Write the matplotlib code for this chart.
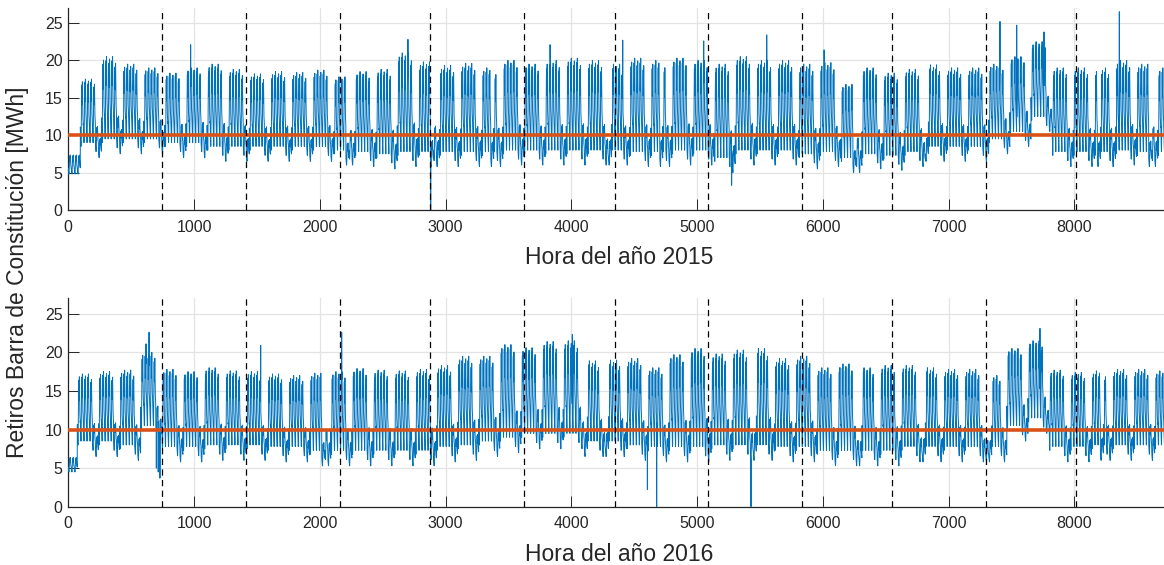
import numpy as np
import matplotlib
matplotlib.use("Agg")
import matplotlib.pyplot as plt

plt.rcParams['font.family'] = ['Liberation Sans', 'DejaVu Sans']

# ---------------- data ----------------
month_starts = [744, 1416, 2160, 2880, 3624, 4344, 5088, 5832, 6552, 7296, 8016]
x_ticks = [0, 1000, 2000, 3000, 4000, 5000, 6000, 7000, 8000]
y_ticks = [0, 5, 10, 15, 20, 25]
xlabels = ["Hora del año 2015", "Hora del año 2016"]
ylabel = "Retiros Barra de Constitución [MWh]"
mean_level = [10.0, 10.0]

# typical hourly shape of a working day (0 = night minimum, 1 = daily peak)
day_profile = [0.3, 0.22, 0.15, 0.08, 0.03, 0.0, 0.06, 0.2, 0.45, 0.7, 0.85, 0.95,
               0.8, 0.65, 0.75, 0.9, 1.0, 0.85, 0.6, 0.48, 0.45, 0.42, 0.38, 0.33]
# Monday..Sunday relative amplitude, night-level lift [MWh]; holiday values
weekday_scale = [0.96, 1.0, 0.97, 1.0, 0.92, 0.35, 0.25]
night_lift = [1.5, 2.0, 2.0, 2.0, 2.0, 0.8, 0.0]
holiday_scale = 0.25
holiday_lift = 0.0

# ---- 2015 (first Monday = day 4) ----
first_monday_2015 = 4
pre_2015 = (15.0, 4.8)  # (peak, low) of the days before the first Monday
peak_2015 = [17.5, 20.5, 19.5, 19.0, 18.3, 19.0, 19.5, 18.8, 18.2, 18.5, 18.4, 18.7,
             17.8, 18.5, 18.8, 21.0, 19.8, 19.3, 19.6, 19.0, 20.0, 19.5, 20.0, 20.3,
             20.0, 19.5, 20.3, 20.0, 20.3, 20.0, 19.5, 20.5, 20.0, 20.0, 19.5, 19.7,
             16.8, 19.0, 18.3, 18.8, 19.4, 19.0, 19.0, 19.5, 20.5, 22.5, 19.0, 19.0,
             19.0, 20.0, 19.5, 19.0]
low_2015 = [7.0, 7.5, 7.5, 7.5, 7.0, 7.0, 6.5, 6.5, 6.5, 6.5, 6.5, 6.5,
            6.0, 5.8, 5.5, 5.8, 5.8, 5.8, 5.8, 5.8, 6.0, 6.0, 6.0, 6.0,
            6.0, 6.0, 5.8, 5.8, 6.0, 6.0, 5.0, 6.0, 6.0, 6.0, 5.5, 5.8,
            5.0, 5.5, 5.3, 5.8, 6.5, 6.5, 6.5, 7.5, 8.5, 10.5, 5.8, 5.8,
            5.8, 6.0, 5.8, 5.8]
holidays_2015 = [0, 1, 92, 120, 140, 179, 196, 260, 284, 341, 358]
event_hours_2015 = [973, 2701, 2882, 3831, 4409, 5053, 5275, 5554, 6010, 7409, 7542, 7759, 8358]
event_values_2015 = [22.1, 22.8, 0.0, 22.1, 22.7, 22.6, 3.3, 23.4, 21.4, 25.2, 24.7, 23.8, 26.5]

# ---- 2016 (first Monday = day 3) ----
first_monday_2016 = 3
pre_2016 = (12.0, 4.5)
peak_2016 = [17.2, 17.5, 17.7, 20.0, 17.8, 17.5, 18.0, 17.6, 17.5, 17.2, 17.0, 17.3,
             17.5, 17.9, 17.7, 17.6, 17.8, 18.3, 19.5, 19.5, 21.0, 20.6, 21.4, 21.5,
             18.9, 19.0, 19.2, 18.0, 19.7, 20.5, 19.8, 20.3, 20.5, 19.2, 19.5, 18.0,
             18.5, 18.0, 18.3, 18.3, 18.0, 17.8, 17.8, 17.0, 20.5, 21.5, 17.7, 17.4,
             17.6, 17.8, 17.8, 17.6]
low_2016 = [6.5, 6.5, 6.0, 8.5, 5.8, 5.8, 6.0, 6.0, 6.0, 5.8, 5.8, 5.3,
            5.3, 5.3, 5.3, 5.3, 5.3, 5.8, 6.0, 6.5, 7.0, 7.5, 7.5, 7.5,
            6.5, 6.5, 6.0, 5.8, 5.8, 5.8, 6.0, 6.0, 6.0, 5.8, 5.8, 5.3,
            5.3, 5.3, 5.3, 5.8, 5.8, 5.8, 5.8, 5.8, 8.5, 9.5, 5.8, 5.8,
            6.0, 6.0, 6.0, 6.0]
holidays_2016 = [0, 84, 171, 178, 227, 262, 283, 304, 305, 342]
event_hours_2016 = [618, 642, 700, 715, 729, 1530, 2174, 4008, 4605, 4679, 5429, 7727]
event_values_2016 = [21.1, 22.6, 5.0, 4.5, 3.7, 20.9, 22.6, 22.3, 2.2, 0.0, 0.0, 23.1]


def build_year(first_monday, pre, peaks, lows, holidays, ev_h, ev_v, ndays=365):
    vals = []
    for d in range(ndays):
        k, wd = divmod(d - first_monday, 7)
        pk, lo = pre if k < 0 else (peaks[k], lows[k])
        if d in holidays or k < 0:
            s, lift = holiday_scale, holiday_lift
        else:
            s, lift = weekday_scale[wd], night_lift[wd]
        base = lo + lift
        for p in day_profile:
            vals.append(base + (pk - base) * s * p)
    y = np.array(vals)
    for h, v in zip(ev_h, ev_v):
        y[h] = v
    return y


series = [
    build_year(first_monday_2015, pre_2015, peak_2015, low_2015, holidays_2015,
               event_hours_2015, event_values_2015),
    build_year(first_monday_2016, pre_2016, peak_2016, low_2016, holidays_2016,
               event_hours_2016, event_values_2016),
]

# ---------------- figure ----------------
W, H = 1164, 565
fig = plt.figure(figsize=(W / 100, H / 100), dpi=100)
axis_col = '#262626'
blue = '#0072BD'
orange = '#D95319'

left = 68.3 / W
width = 8760 * 0.12575 / W
positions = [
    [left, (H - 210) / H, width, 202 / H],
    [left, (H - 506.7) / H, width, 208.4 / H],
]

for i, pos in enumerate(positions):
    ax = fig.add_axes(pos)
    y = series[i]
    hours = np.arange(len(y))
    ax.plot(hours, y, color=blue, lw=0.7, zorder=3)
    ax.axhline(mean_level[i], color=orange, lw=2.6, zorder=4)
    for m in month_starts:
        ax.axvline(m, color='black', lw=0.9, linestyle=(0, (5, 3.5)), zorder=5)
    ax.set_xlim(0, 8760)
    ax.set_ylim(0, 27)
    ax.set_xticks(x_ticks)
    ax.set_yticks(y_ticks)
    ax.grid(True, color='#E3E3E3', lw=0.9, zorder=0)
    ax.set_axisbelow(True)
    for s in ['top', 'right']:
        ax.spines[s].set_visible(False)
    for s in ['left', 'bottom']:
        ax.spines[s].set_color(axis_col)
        ax.spines[s].set_linewidth(0.9)
    ax.tick_params(direction='in', length=8, width=0.7, colors=axis_col,
                   labelsize=11.5, labelcolor=axis_col)
    ax.tick_params(axis='x', pad=7)
    ax.tick_params(axis='y', pad=4)
    ax.set_xlabel(xlabels[i], fontsize=16.5, color=axis_col, labelpad=8)

fig.text(18 / W, 1 - 272 / H, ylabel, rotation=90, ha='center', va='center',
         fontsize=16.5, color=axis_col)

fig.savefig('out.png', dpi=100)
